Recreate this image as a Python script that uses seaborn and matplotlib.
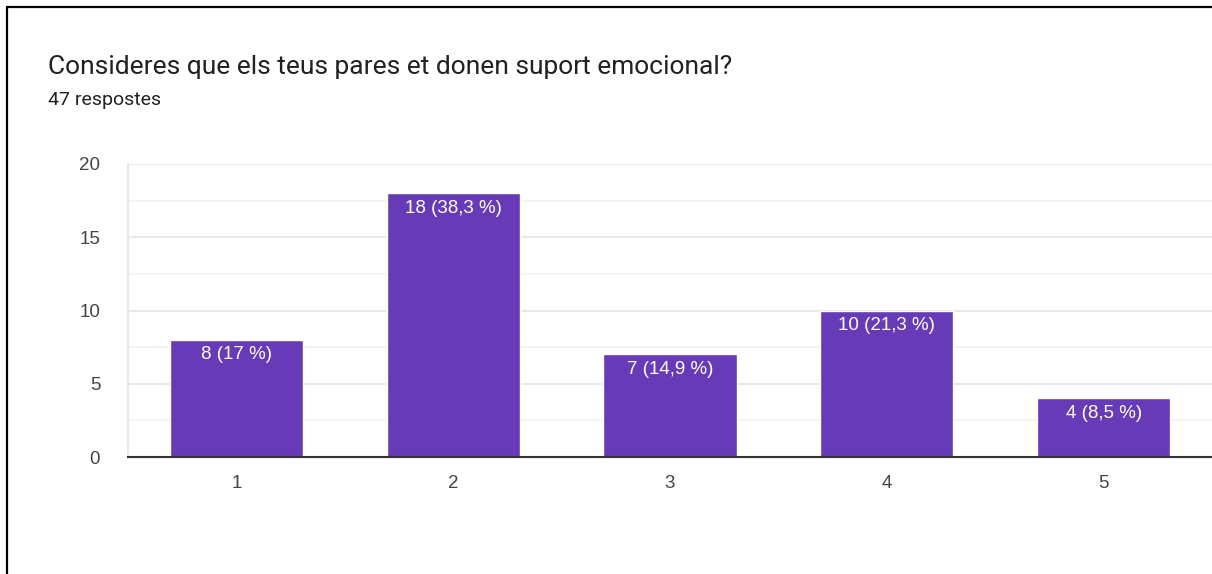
import matplotlib
matplotlib.use("Agg")
import matplotlib.pyplot as plt
import matplotlib.lines as mlines
from matplotlib.ticker import MultipleLocator
import pandas as pd
import seaborn as sns

# --- data ---
categories = ["1", "2", "3", "4", "5"]
counts = [8, 18, 7, 10, 4]
bar_labels = ["8 (17 %)", "18 (38,3 %)", "7 (14,9 %)", "10 (21,3 %)", "4 (8,5 %)"]
title = "Consideres que els teus pares et donen suport emocional?"
subtitle = "47 respostes"

df = pd.DataFrame({"resposta": categories, "n": counts})

sns.set_style("white")
plt.rcParams["font.family"] = ["Roboto", "DejaVu Sans"]
chart_font = ["Liberation Sans", "DejaVu Sans"]

W, H = 1212, 574
fig = plt.figure(figsize=(W / 100, H / 100), dpi=100)
ax = fig.add_axes([128 / W, (H - 457) / H, (1212 - 128) / W, (457 - 164) / H])

sns.barplot(data=df, x="resposta", y="n", color="#673ab7", width=0.614,
            saturation=1, ax=ax, zorder=3)

ax.set_xlim(-0.5, 4.5)
ax.set_ylim(0, 20)
ax.yaxis.set_major_locator(MultipleLocator(5))
ax.yaxis.set_minor_locator(MultipleLocator(2.5))
ax.grid(axis="y", which="major", color="#e6e6e6", linewidth=1.3, zorder=0)
ax.grid(axis="y", which="minor", color="#f3f3f3", linewidth=1.3, zorder=0)
ax.set_axisbelow(True)

for side in ["top", "right"]:
    ax.spines[side].set_visible(False)
ax.spines["left"].set_color("#e6e6e6")
ax.spines["left"].set_linewidth(1.3)
ax.spines["bottom"].set_color("#333333")
ax.spines["bottom"].set_linewidth(1.5)
ax.spines["bottom"].set_zorder(4)

ax.set_xlabel("")
ax.set_ylabel("")
ax.tick_params(axis="both", which="both", length=0, labelsize=13.5, labelcolor="#444444")
ax.tick_params(axis="y", pad=20)
ax.tick_params(axis="x", pad=13)
for lbl in ax.get_xticklabels() + ax.get_yticklabels():
    lbl.set_family(chart_font)

ax.bar_label(ax.containers[0], labels=bar_labels, padding=-17, color="white",
             fontsize=13.5, family=chart_font)

fig.text(48 / W, 1 - 67 / H, title, fontsize=19, color="#202124", va="center", ha="left")
fig.text(48 / W, 1 - 100 / H, subtitle, fontsize=14, color="#202124", va="center", ha="left")

# black frame (left and top) of the screenshot
fig.add_artist(mlines.Line2D([7 / W, 7 / W], [0, 1 - 7 / H], color="black", linewidth=1.6))
fig.add_artist(mlines.Line2D([7 / W, 1], [1 - 7 / H, 1 - 7 / H], color="black", linewidth=1.6))

fig.savefig("out.png", dpi=100)
